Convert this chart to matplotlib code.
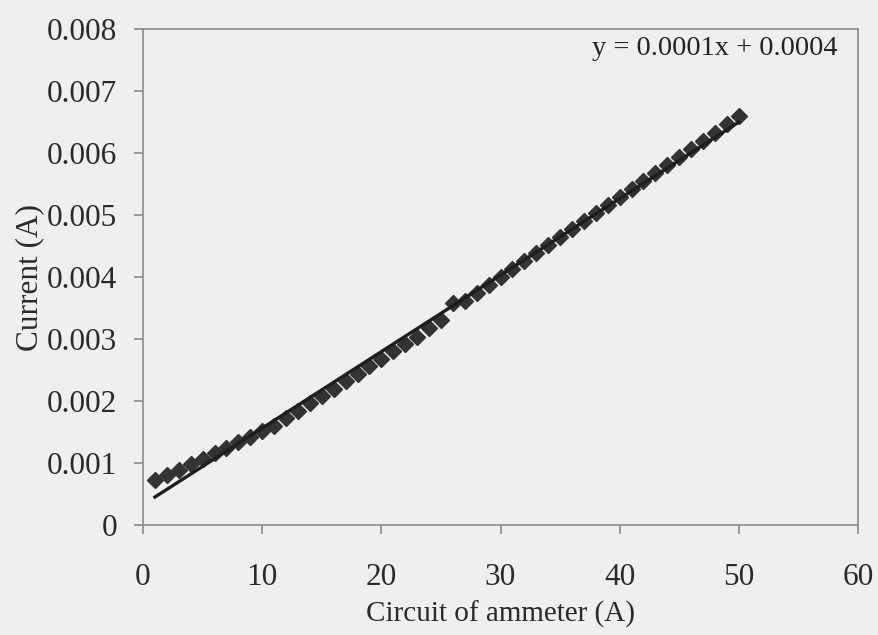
import matplotlib
matplotlib.use("Agg")
import matplotlib.pyplot as plt
import numpy as np

# readings: ammeter circuit value vs measured current
ammeter = list(range(1, 51))
current = [
    0.00072, 0.00080, 0.00089, 0.00098, 0.00107, 0.00116, 0.00125, 0.00134, 0.00142, 0.00151,
    0.00160, 0.00172, 0.00184, 0.00196, 0.00208, 0.00220, 0.00232, 0.00244, 0.00256, 0.00268,
    0.00280, 0.00292, 0.00304, 0.00317, 0.00331, 0.00358, 0.00362, 0.00374, 0.00387, 0.00400,
    0.00413, 0.00426, 0.00439, 0.00452, 0.00465, 0.00478, 0.00491, 0.00503, 0.00516, 0.00529,
    0.00542, 0.00555, 0.00568, 0.00581, 0.00594, 0.00607, 0.00620, 0.00633, 0.00646, 0.00659,
]
x_ticks = [0, 10, 20, 30, 40, 50, 60]
y_ticks = [0, 0.001, 0.002, 0.003, 0.004, 0.005, 0.006, 0.007, 0.008]
y_tick_labels = ["0", "0.001", "0.002", "0.003", "0.004", "0.005", "0.006", "0.007", "0.008"]
equation = "y = 0.0001x + 0.0004"

plt.rcParams["font.family"] = ["Liberation Serif", "DejaVu Serif"]
bg = "#efefef"
ink = "#2a2a2a"

fig = plt.figure(figsize=(8.79, 6.35), dpi=100, facecolor=bg)
# plot area: x 143..858 px, y 29..525 px
ax = fig.add_axes([0.1627, 0.1732, 0.8134, 0.7811])
ax.set_facecolor(bg)

x = np.array(ammeter)
y = np.array(current)
slope, intercept = np.polyfit(x, y, 1)

ax.plot(x, y, linestyle="none", marker="D", markersize=8,
        color="#333333", zorder=3)
ax.plot(x, slope * x + intercept, color="#1e1e1e", linewidth=2.4, zorder=4)

ax.set_xlim(0, 60)
ax.set_ylim(0, 0.008)
ax.set_xticks(x_ticks)
ax.set_yticks(y_ticks)
ax.set_yticklabels(y_tick_labels)

for side in ["left", "right", "top", "bottom"]:
    ax.spines[side].set_color("#8a8a8a")
    ax.spines[side].set_linewidth(1.2)
ax.tick_params(direction="out", length=6.5, width=1.2, color="#8a8a8a",
               labelsize=22.5, labelcolor=ink)
ax.tick_params(axis="x", pad=21)
ax.tick_params(axis="y", pad=12)

ax.text(0.80, 0.960, equation, transform=ax.transAxes, ha="center", va="center",
        fontsize=20.5, color="#222222")

ax.set_xlabel("Circuit of ammeter (A)", fontsize=21, color=ink, labelpad=6)
ax.set_ylabel("Current (A)", fontsize=22.5, color=ink, labelpad=2)

fig.savefig("out.png", dpi=100, facecolor=bg)
